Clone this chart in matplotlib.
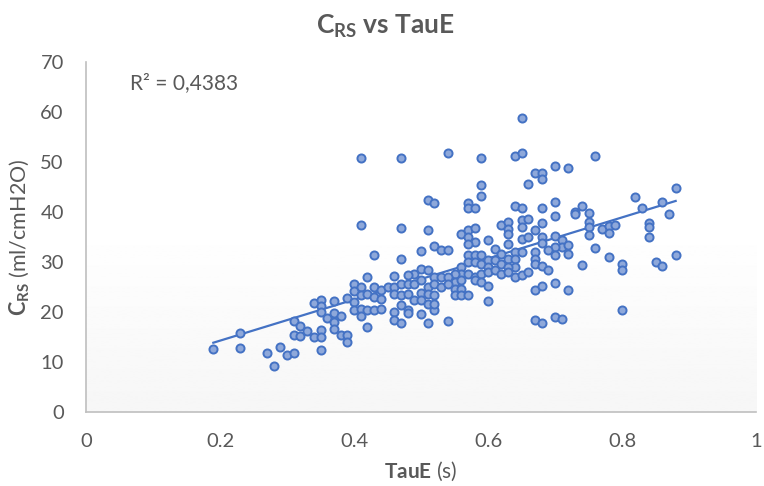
import numpy as np
import matplotlib
matplotlib.use("Agg")
import matplotlib.pyplot as plt

# datos (TauE en s, Crs en ml/cmH2O)
tau_e = [0.19, 0.23, 0.23, 0.27, 0.28, 0.29, 0.30, 0.31, 0.31, 0.32, 0.31, 0.32, 0.33, 0.34, 0.34,
         0.35, 0.35, 0.35, 0.35, 0.35, 0.35, 0.37, 0.36, 0.37, 0.37, 0.37, 0.38, 0.38, 0.39, 0.39,
         0.39, 0.40, 0.40, 0.40, 0.40,
         0.41, 0.47, 0.54, 0.59, 0.64, 0.65, 0.59, 0.59, 0.66, 0.51, 0.52, 0.57, 0.57, 0.58, 0.64,
         0.65, 0.41, 0.47, 0.51, 0.56, 0.57, 0.57, 0.58, 0.58, 0.57, 0.62, 0.63, 0.63, 0.63, 0.65,
         0.65, 0.66, 0.65, 0.60, 0.52, 0.53, 0.54, 0.50, 0.43, 0.47, 0.61, 0.63, 0.64, 0.65, 0.62,
         0.57, 0.58, 0.59, 0.57, 0.58, 0.59, 0.60, 0.56, 0.60, 0.61, 0.62, 0.63, 0.64, 0.64, 0.63,
         0.56, 0.55, 0.57, 0.58, 0.59, 0.60, 0.61, 0.62, 0.63, 0.64, 0.65, 0.66, 0.58, 0.59, 0.60,
         0.60, 0.50, 0.51, 0.49, 0.48, 0.46, 0.52, 0.53, 0.54, 0.55, 0.56, 0.55, 0.56, 0.55, 0.56,
         0.57, 0.41, 0.42, 0.43, 0.44, 0.45, 0.46, 0.47, 0.48, 0.49, 0.50, 0.51, 0.52, 0.53, 0.54,
         0.41, 0.42, 0.43, 0.44, 0.46, 0.47, 0.48, 0.50, 0.51, 0.52, 0.41, 0.42, 0.43, 0.44, 0.46,
         0.47, 0.48, 0.49, 0.50, 0.50, 0.51, 0.52, 0.52, 0.41, 0.42, 0.46, 0.47, 0.48, 0.51, 0.54,
         0.65, 0.66, 0.76, 0.70, 0.72, 0.67, 0.68, 0.68, 0.88, 0.82, 0.86, 0.83, 0.87, 0.70, 0.68,
         0.70, 0.74, 0.73, 0.73, 0.75, 0.75, 0.75, 0.75, 0.77, 0.78, 0.78, 0.79, 0.84, 0.84, 0.84,
         0.68, 0.67, 0.68, 0.68, 0.70, 0.71, 0.71, 0.72, 0.72, 0.70, 0.69, 0.70, 0.67, 0.67, 0.67,
         0.68, 0.69, 0.76, 0.74, 0.78, 0.80, 0.80, 0.85, 0.86, 0.88, 0.67, 0.68, 0.70, 0.72, 0.80,
         0.67, 0.68, 0.70, 0.71]
crs = [12.7, 15.9, 12.9, 11.9, 9.3, 13.1, 11.5, 11.9, 18.3, 17.2, 15.5, 15.2, 16.2, 15.1, 21.9,
       22.5, 21.3, 20.0, 16.4, 15.1, 12.5, 22.3, 18.9, 19.9, 18.1, 16.6, 19.2, 15.4, 15.4, 14.1,
       22.9, 25.7, 24.3, 22.1, 20.5,
       50.9, 50.9, 51.9, 50.9, 51.3, 51.9, 45.4, 43.2, 45.7, 42.4, 41.9, 41.9, 40.9, 40.9, 41.2,
       40.9, 37.5, 36.9, 36.5, 35.6, 36.4, 35.1, 36.9, 34.1, 33.7, 37.4, 38.1, 36.7, 35.6, 38.4,
       37.1, 38.7, 34.7, 34.4, 33.2, 32.4, 32.4, 32.3, 31.4, 30.7, 32.7, 33.7, 32.1, 32.1, 31.7,
       31.4, 31.4, 31.4, 30.1, 30.1, 29.7, 30.4, 29.1, 29.1, 30.4, 29.7, 30.7, 30.7, 29.1, 29.1,
       27.7, 27.7, 27.7, 27.1, 27.7, 28.1, 28.4, 27.7, 28.1, 27.1, 27.4, 28.1, 26.4, 26.1, 25.2,
       22.3, 28.7, 28.5, 27.7, 27.4, 27.2, 27.1, 27.1, 27.1, 26.1, 26.4, 24.7, 24.7, 23.4, 23.4,
       23.4, 25.1, 27.1, 25.1, 24.4, 25.1, 25.1, 25.7, 25.7, 25.7, 26.4, 25.1, 25.7, 25.1, 25.7,
       23.5, 23.7, 23.1, 22.7, 23.7, 23.4, 23.7, 23.9, 23.7, 23.4, 20.7, 20.4, 20.4, 20.7, 20.1,
       21.4, 20.4, 22.5, 22.5, 19.7, 21.7, 20.4, 21.7, 19.3, 17.1, 18.4, 17.9, 19.9, 17.9, 18.3,
       58.9, 35.1, 51.3, 49.2, 48.9, 47.9, 47.9, 46.7, 44.9, 43.0, 42.1, 40.9, 39.6, 42.1, 40.9,
       39.3, 41.3, 40.1, 39.6, 39.9, 38.1, 37.1, 35.5, 36.7, 37.2, 35.9, 37.5, 37.9, 37.1, 35.1,
       37.9, 36.4, 35.1, 33.9, 35.3, 34.5, 33.1, 33.5, 31.7, 33.1, 32.4, 31.4, 32.1, 30.7, 29.7,
       29.3, 28.5, 32.9, 29.5, 31.0, 29.7, 28.5, 30.1, 29.3, 31.4, 24.5, 25.2, 25.9, 24.5, 20.4,
       18.4, 17.9, 19.1, 18.6]

x_ticks = [0, 0.2, 0.4, 0.6, 0.8, 1]
y_ticks = [0, 10, 20, 30, 40, 50, 60, 70]
r2_text = "R² = 0,4383"

plt.rcParams['font.family'] = ['Lato', 'DejaVu Sans']
plt.rcParams['mathtext.fontset'] = 'custom'
plt.rcParams['mathtext.rm'] = 'Lato'
plt.rcParams['mathtext.bf'] = 'Lato:bold'

gris = '#595959'
azul = '#4472C4'

fig = plt.figure(figsize=(7.64, 4.86), dpi=100)
ax = fig.add_axes([0.1126, 0.152, 0.877, 0.72])

# fondo degradado del area de trazado
grad = np.linspace(1.0, 0.935, 256).reshape(-1, 1)
grad = np.clip(grad + 0.03, 0, 1)
ax.imshow(grad, extent=[0, 1, 0, 1], transform=ax.transAxes, aspect='auto',
          cmap='gray', vmin=0, vmax=1, zorder=0)

ax.scatter(tau_e, crs, s=34, facecolor='#8EA8DA', edgecolor=azul, linewidth=1.4, zorder=3)

# linea de tendencia lineal
m, b = np.polyfit(tau_e, crs, 1)
xs = np.array([min(tau_e), max(tau_e)])
ax.plot(xs, m * xs + b, color=azul, linewidth=1.6, zorder=2)

ax.set_xlim(0, 1)
ax.set_ylim(0, 70)
ax.set_xticks(x_ticks)
ax.set_xticklabels(['{:g}'.format(v) for v in x_ticks])
ax.set_yticks(y_ticks)
ax.tick_params(axis='x', length=0, pad=15, labelsize=14.5, labelcolor=gris)
ax.tick_params(axis='y', length=0, pad=16, labelsize=14.5, labelcolor=gris)

for s in ['top', 'right']:
    ax.spines[s].set_visible(False)
for s in ['left', 'bottom']:
    ax.spines[s].set_color('#bfbfbf')
    ax.spines[s].set_linewidth(1.2)

ax.set_xlabel(r'$\mathbf{TauE}$ (s)', fontsize=15, color=gris, labelpad=7)
ax.set_ylabel(r'$\mathbf{C_{RS}}$ (ml/cmH2O)', fontsize=15.5, color=gris, labelpad=6)
fig.text(0.505, 0.945, r'$\mathbf{C_{RS}}$ vs TauE', fontsize=19, fontweight='bold',
         color=gris, ha='center', va='center')
ax.text(0.066, 0.94, r2_text, transform=ax.transAxes, fontsize=15, color=gris,
        ha='left', va='center')

fig.savefig('out.png', dpi=100)
